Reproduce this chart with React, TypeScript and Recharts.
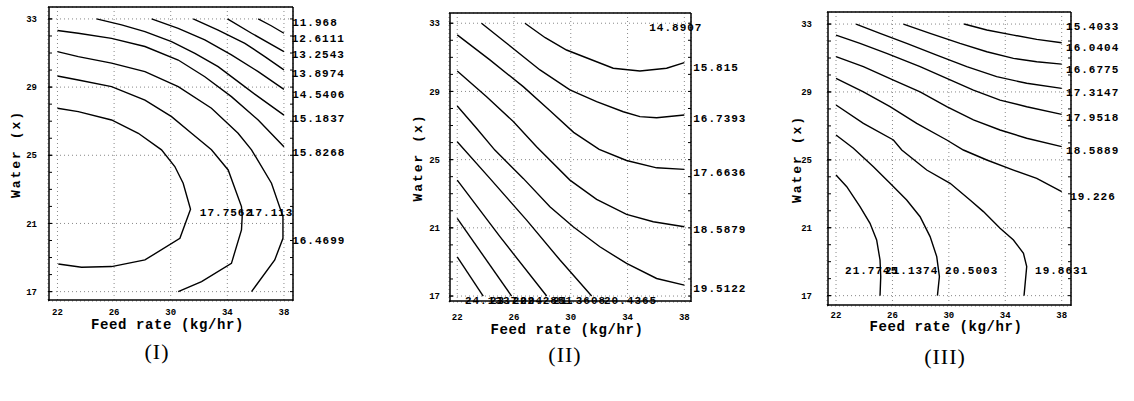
import React from "react";
import {
  CartesianGrid,
  ComposedChart,
  Line,
  ReferenceDot,
  XAxis,
  YAxis,
} from "recharts";

type Pt = { x: number; y: number };
type Tag = { text: string; x: number; y: number };

const feedTicks = [22, 26, 30, 34, 38];
const waterTicks = [17, 21, 25, 29, 33];
const feedMinorTicks = [22, 23, 24, 25, 26, 27, 28, 29, 30, 31, 32, 33, 34, 35, 36, 37, 38];
const waterMinorTicks = [17, 18, 19, 20, 21, 22, 23, 24, 25, 26, 27, 28, 29, 30, 31, 32, 33];

const pts = (arr: number[][]): Pt[] => arr.map(([x, y]) => ({ x, y }));

// ---- Panel I ----
const contoursI: Pt[][] = [
  pts([[36.18, 33], [37.1, 32.6], [38, 32.16]]),
  pts([[34.01, 33], [35.71, 32.16], [38, 31.08]]),
  pts([[31.59, 33], [33.35, 32.35], [35.24, 31.57], [36.65, 30.79], [38, 30.01]]),
  pts([[28.65, 33], [30.53, 32.45], [32.41, 31.77], [34.29, 30.89], [36.18, 29.91], [38, 28.87]]),
  pts([[24.76, 33], [26.53, 32.65], [28.18, 32.26], [30.06, 31.67], [31.71, 30.98], [33.35, 30.2], [34.76, 29.32], [36.18, 28.44], [38, 27.36]]),
  pts([[22, 32.32], [23.47, 32.16], [25.82, 31.86], [28.18, 31.38], [30.53, 30.59], [32.41, 29.61], [34.29, 28.44], [36.18, 27.07], [38, 25.5]]),
  pts([[22, 31.08], [23.47, 30.79], [25.82, 30.41], [28.18, 29.91], [30.53, 29.03], [32.88, 27.76], [34.76, 26.29], [35.71, 25.32], [37.12, 23.36], [37.93, 21.4], [37.93, 20.13], [37.35, 18.86], [35.71, 17]]),
  pts([[22, 29.65], [23.47, 29.42], [25.82, 29.03], [28.18, 28.24], [30.06, 27.27], [31.47, 26.29], [32.88, 25.32], [34.06, 24.14], [35.0, 21.99], [35.05, 21.4], [35.0, 20.62], [34.29, 18.66], [32.18, 17.59], [30.53, 17]]),
  pts([[22, 27.76], [23.47, 27.56], [25.82, 27.07], [27.71, 26.29], [29.35, 25.32], [30.29, 24.34], [30.88, 23.36], [31.4, 21.83], [30.65, 20.13], [28.18, 18.86], [25.82, 18.47], [23.7, 18.43], [22.06, 18.62]]),
];
const labelsI: Tag[] = [
  { text: "11.968", x: 38.58, y: 32.77 },
  { text: "12.6111", x: 38.55, y: 31.83 },
  { text: "13.2543", x: 38.55, y: 30.89 },
  { text: "13.8974", x: 38.55, y: 29.78 },
  { text: "14.5406", x: 38.58, y: 28.54 },
  { text: "15.1837", x: 38.58, y: 27.13 },
  { text: "15.8268", x: 38.58, y: 25.14 },
  { text: "16.4699", x: 38.58, y: 19.98 },
  { text: "17.7562", x: 32.06, y: 21.62 },
  { text: "17.113", x: 35.45, y: 21.62 },
];

// ---- Panel II ----
const contoursII: Pt[][] = [
  pts([[26.77, 33], [28.2, 32.15], [29.7, 31.43], [32.99, 30.36], [34.87, 30.2], [36.75, 30.36], [38, 30.69]]),
  pts([[23.71, 33], [25.48, 31.83], [27.83, 30.26], [29.94, 29.09], [31.82, 28.4], [33.7, 27.81], [34.87, 27.52], [36.05, 27.46], [38, 27.62]]),
  pts([[22, 32.32], [24.3, 30.85], [26.65, 29.28], [28.5, 27.9], [30.2, 26.6], [32.0, 25.6], [33.93, 24.95], [36.05, 24.52], [38, 24.43]]),
  pts([[22, 30.2], [24.07, 28.69], [25.95, 27.23], [27.59, 25.76], [29.94, 23.8], [31.82, 22.67], [33.93, 21.79], [35.81, 21.36], [38, 21.06]]),
  pts([[22, 28.15], [23.36, 26.84], [24.65, 25.56], [26.65, 23.9], [28.53, 22.24], [30.17, 21.06], [32.05, 19.89], [33.93, 18.91], [36.05, 18.03], [38, 17.64]]),
  pts([[22, 26.05], [24.3, 23.9], [26.89, 21.45], [29.24, 19.11], [31.47, 17]]),
  pts([[22, 23.8], [25.01, 20.48], [28.3, 17]]),
  pts([[22, 21.55], [25.83, 17]]),
  pts([[22, 19.3], [23.83, 17]]),
];
const labelsII: Tag[] = [
  { text: "14.8907", x: 35.53, y: 32.71 },
  { text: "15.815", x: 38.63, y: 30.39 },
  { text: "16.7393", x: 38.63, y: 27.38 },
  { text: "17.6636", x: 38.63, y: 24.2 },
  { text: "18.5879", x: 38.63, y: 20.87 },
  { text: "19.5122", x: 38.63, y: 17.39 },
  { text: "24.1337", x: 22.54, y: 16.7 },
  { text: "23.2094", x: 24.3, y: 16.7 },
  { text: "22.2851", x: 26.42, y: 16.7 },
  { text: "21.3608", x: 28.74, y: 16.7 },
  { text: "20.4365", x: 32.34, y: 16.7 },
];

// ---- Panel III ----
const contoursIII: Pt[][] = [
  pts([[31.08, 33], [32.69, 32.65], [34.58, 32.35], [36.23, 32.1], [38, 31.9]]),
  pts([[26.78, 33], [28.67, 32.45], [30.79, 31.86], [32.69, 31.37], [34.58, 30.98], [36.23, 30.78], [38, 30.64]]),
  pts([[23.42, 33], [25.12, 32.45], [27.01, 31.86], [29.14, 31.17], [31.27, 30.49], [33.39, 29.9], [35.52, 29.51], [38, 29.21]]),
  pts([[22, 32.35], [23.7, 31.86], [25.59, 31.27], [27.96, 30.49], [29.85, 29.8], [31.74, 29.11], [33.63, 28.52], [35.52, 28.13], [38, 27.68]]),
  pts([[22, 31.08], [23.94, 30.49], [26.07, 29.7], [27.96, 29.01], [29.85, 28.13], [31.74, 27.35], [33.63, 26.76], [35.52, 26.27], [38, 25.78]]),
  pts([[22, 29.8], [23.94, 29.01], [25.83, 28.13], [27.72, 27.15], [29.85, 26.17], [31.03, 25.58], [32.69, 24.99], [34.58, 24.4], [36.23, 23.91], [38, 23.13]]),
  pts([[22, 28.23], [23.94, 27.15], [26.07, 26.17], [26.66, 25.58], [28.43, 24.4], [30.09, 23.62], [31.5, 22.63], [32.45, 21.95], [33.63, 20.97], [34.58, 20.28], [35.29, 19.49], [35.52, 18.71], [35.33, 17]]),
  pts([[22, 26.46], [23.23, 25.68], [24.65, 24.6], [25.83, 23.62], [27.01, 22.63], [27.96, 21.65], [28.67, 20.48], [29.14, 19.3], [29.33, 18.12], [29.19, 17]]),
  pts([[22, 24.11], [22.76, 23.42], [23.7, 22.24], [24.41, 21.26], [24.88, 20.28], [25.12, 19.1], [25.17, 18.12], [25.12, 17]]),
];
const labelsIII: Tag[] = [
  { text: "15.4033", x: 38.31, y: 32.84 },
  { text: "16.0404", x: 38.31, y: 31.57 },
  { text: "16.6775", x: 38.31, y: 30.29 },
  { text: "17.3147", x: 38.31, y: 28.95 },
  { text: "17.9518", x: 38.31, y: 27.45 },
  { text: "18.5889", x: 38.31, y: 25.52 },
  { text: "19.226", x: 38.6, y: 22.83 },
  { text: "21.7745", x: 22.64, y: 18.47 },
  { text: "21.1374", x: 25.48, y: 18.47 },
  { text: "20.5003", x: 29.73, y: 18.47 },
  { text: "19.8631", x: 36.11, y: 18.47 },
];

const MONO = "'Liberation Mono', 'DejaVu Sans Mono', monospace";
const CHART_H = 350;
const X_AXIS_H = 40;
const Y_AXIS_W = 48;

type PanelCfg = {
  contours: Pt[][];
  labels: Tag[];
  xDomain: [number, number];
  yDomain: [number, number];
  left: number;
  width: number;
  right: number;
  top: number;
  bottom: number;
  xTickMargin: number;
  yTickMargin: number;
  yLabelDx: number;
  xLabelDy: number;
  title: string;
  titleX: number;
  titleY: number;
};

const panels: PanelCfg[] = [
  {
    contours: contoursI, labels: labelsI,
    xDomain: [21.33, 38.64], yDomain: [16.45, 33.7],
    left: 0, width: 383, right: 90, top: 7, bottom: 301,
    xTickMargin: 8, yTickMargin: 11, yLabelDx: -9, xLabelDy: 3,
    title: "(I)", titleX: 157, titleY: 352,
  },
  {
    contours: contoursII, labels: labelsII,
    xDomain: [21.42, 38.47], yDomain: [16.65, 33.6],
    left: 401, width: 380, right: 90, top: 13, bottom: 302,
    xTickMargin: 12, yTickMargin: 9, yLabelDx: -8, xLabelDy: 7,
    title: "(II)", titleX: 565, titleY: 355,
  },
  {
    contours: contoursIII, labels: labelsIII,
    xDomain: [21.36, 38.66], yDomain: [16.39, 33.71],
    left: 779, width: 352, right: 60, top: 12, bottom: 306,
    xTickMargin: 6, yTickMargin: 15, yLabelDx: -7, xLabelDy: 0,
    title: "(III)", titleX: 945, titleY: 357,
  },
];

const tickStyle = { fontSize: 9, fontWeight: 700, fill: "#000", fontFamily: MONO };
const frameLine = { stroke: "#000", strokeWidth: 1.5 };
const blank = () => "";

const labelShape = (text: string) => (props: any) => (
  <text
    x={props.cx}
    y={props.cy}
    dominantBaseline="central"
    fontFamily={MONO}
    fontSize={11}
    fontWeight={700}
    letterSpacing={1}
    fill="#000"
  >
    {text}
  </text>
);

function ContourPanel({ p }: { p: PanelCfg }) {
  return (
    <div style={{ position: "absolute", left: p.left, top: 0 }}>
      <ComposedChart
        width={p.width}
        height={CHART_H}
        margin={{ top: p.top, right: p.right, left: 0, bottom: CHART_H - p.bottom - X_AXIS_H }}
      >
        <CartesianGrid stroke="#888" strokeDasharray="1 3" />
        <XAxis
          dataKey="x"
          type="number"
          domain={p.xDomain}
          allowDataOverflow
          ticks={feedTicks}
          interval={0}
          height={X_AXIS_H}
          tickSize={0}
          tickMargin={p.xTickMargin}
          axisLine={false}
          tickLine={false}
          tick={tickStyle}
          label={{
            value: "Feed rate (kg/hr)",
            position: "center",
            dx: -3,
            dy: p.xLabelDy,
            fontFamily: MONO,
            fontSize: 14,
            fontWeight: 700,
            fill: "#000",
            letterSpacing: 0.6,
          }}
        />
        <YAxis
          type="number"
          domain={p.yDomain}
          allowDataOverflow
          ticks={waterTicks}
          interval={0}
          width={Y_AXIS_W}
          tickSize={0}
          tickMargin={p.yTickMargin}
          axisLine={false}
          tickLine={false}
          tick={tickStyle}
          label={{
            value: "Water (x)",
            angle: -90,
            position: "center",
            dx: p.yLabelDx,
            fontFamily: MONO,
            fontSize: 13,
            fontWeight: 700,
            fill: "#000",
            letterSpacing: 2,
          }}
        />
        {/* frame with inward tick marks: thin mirrored axes on all four sides */}
        <XAxis xAxisId="bm" orientation="bottom" mirror height={1} type="number" domain={p.xDomain} allowDataOverflow ticks={feedMinorTicks} interval={0} tickSize={3} tickFormatter={blank} axisLine={frameLine} tickLine={{ stroke: "#000" }} />
        <XAxis xAxisId="bM" orientation="bottom" mirror height={1} type="number" domain={p.xDomain} allowDataOverflow ticks={feedTicks} interval={0} tickSize={4} tickFormatter={blank} axisLine={false} tickLine={{ stroke: "#000" }} />
        <XAxis xAxisId="tm" orientation="top" mirror height={1} type="number" domain={p.xDomain} allowDataOverflow ticks={feedMinorTicks} interval={0} tickSize={3} tickFormatter={blank} axisLine={frameLine} tickLine={{ stroke: "#000" }} />
        <YAxis yAxisId="lm" orientation="left" mirror width={1} type="number" domain={p.yDomain} allowDataOverflow ticks={waterMinorTicks} interval={0} tickSize={3} tickFormatter={blank} axisLine={frameLine} tickLine={{ stroke: "#000" }} />
        <YAxis yAxisId="lM" orientation="left" mirror width={1} type="number" domain={p.yDomain} allowDataOverflow ticks={waterTicks} interval={0} tickSize={4} tickFormatter={blank} axisLine={false} tickLine={{ stroke: "#000" }} />
        <YAxis yAxisId="rm" orientation="right" mirror width={1} type="number" domain={p.yDomain} allowDataOverflow ticks={waterMinorTicks} interval={0} tickSize={3} tickFormatter={blank} axisLine={frameLine} tickLine={{ stroke: "#000" }} />
        {p.contours.map((c, i) => (
          <Line
            key={`c${i}`}
            data={c}
            dataKey="y"
            type="linear"
            dot={false}
            activeDot={false}
            stroke="#000"
            strokeWidth={1.4}
            isAnimationActive={false}
          />
        ))}
        {p.labels.map((t) => (
          <ReferenceDot
            key={t.text}
            x={t.x}
            y={t.y}
            r={1}
            ifOverflow="visible"
            shape={labelShape(t.text)}
          />
        ))}
      </ComposedChart>
      <div
        style={{
          position: "absolute",
          left: p.titleX - p.left,
          top: p.titleY,
          transform: "translate(-50%, -50%)",
          fontFamily: "'Liberation Serif', 'DejaVu Serif', serif",
          fontSize: 22,
          letterSpacing: 1,
          color: "#000",
          whiteSpace: "nowrap",
        }}
      >
        {p.title}
      </div>
    </div>
  );
}

export default function App() {
  return (
    <div
      style={{
        position: "absolute",
        left: 0,
        top: 0,
        width: 1134,
        height: 401,
        background: "#fff",
        overflow: "hidden",
      }}
    >
      {panels.map((p) => (
        <ContourPanel key={p.title} p={p} />
      ))}
    </div>
  );
}
